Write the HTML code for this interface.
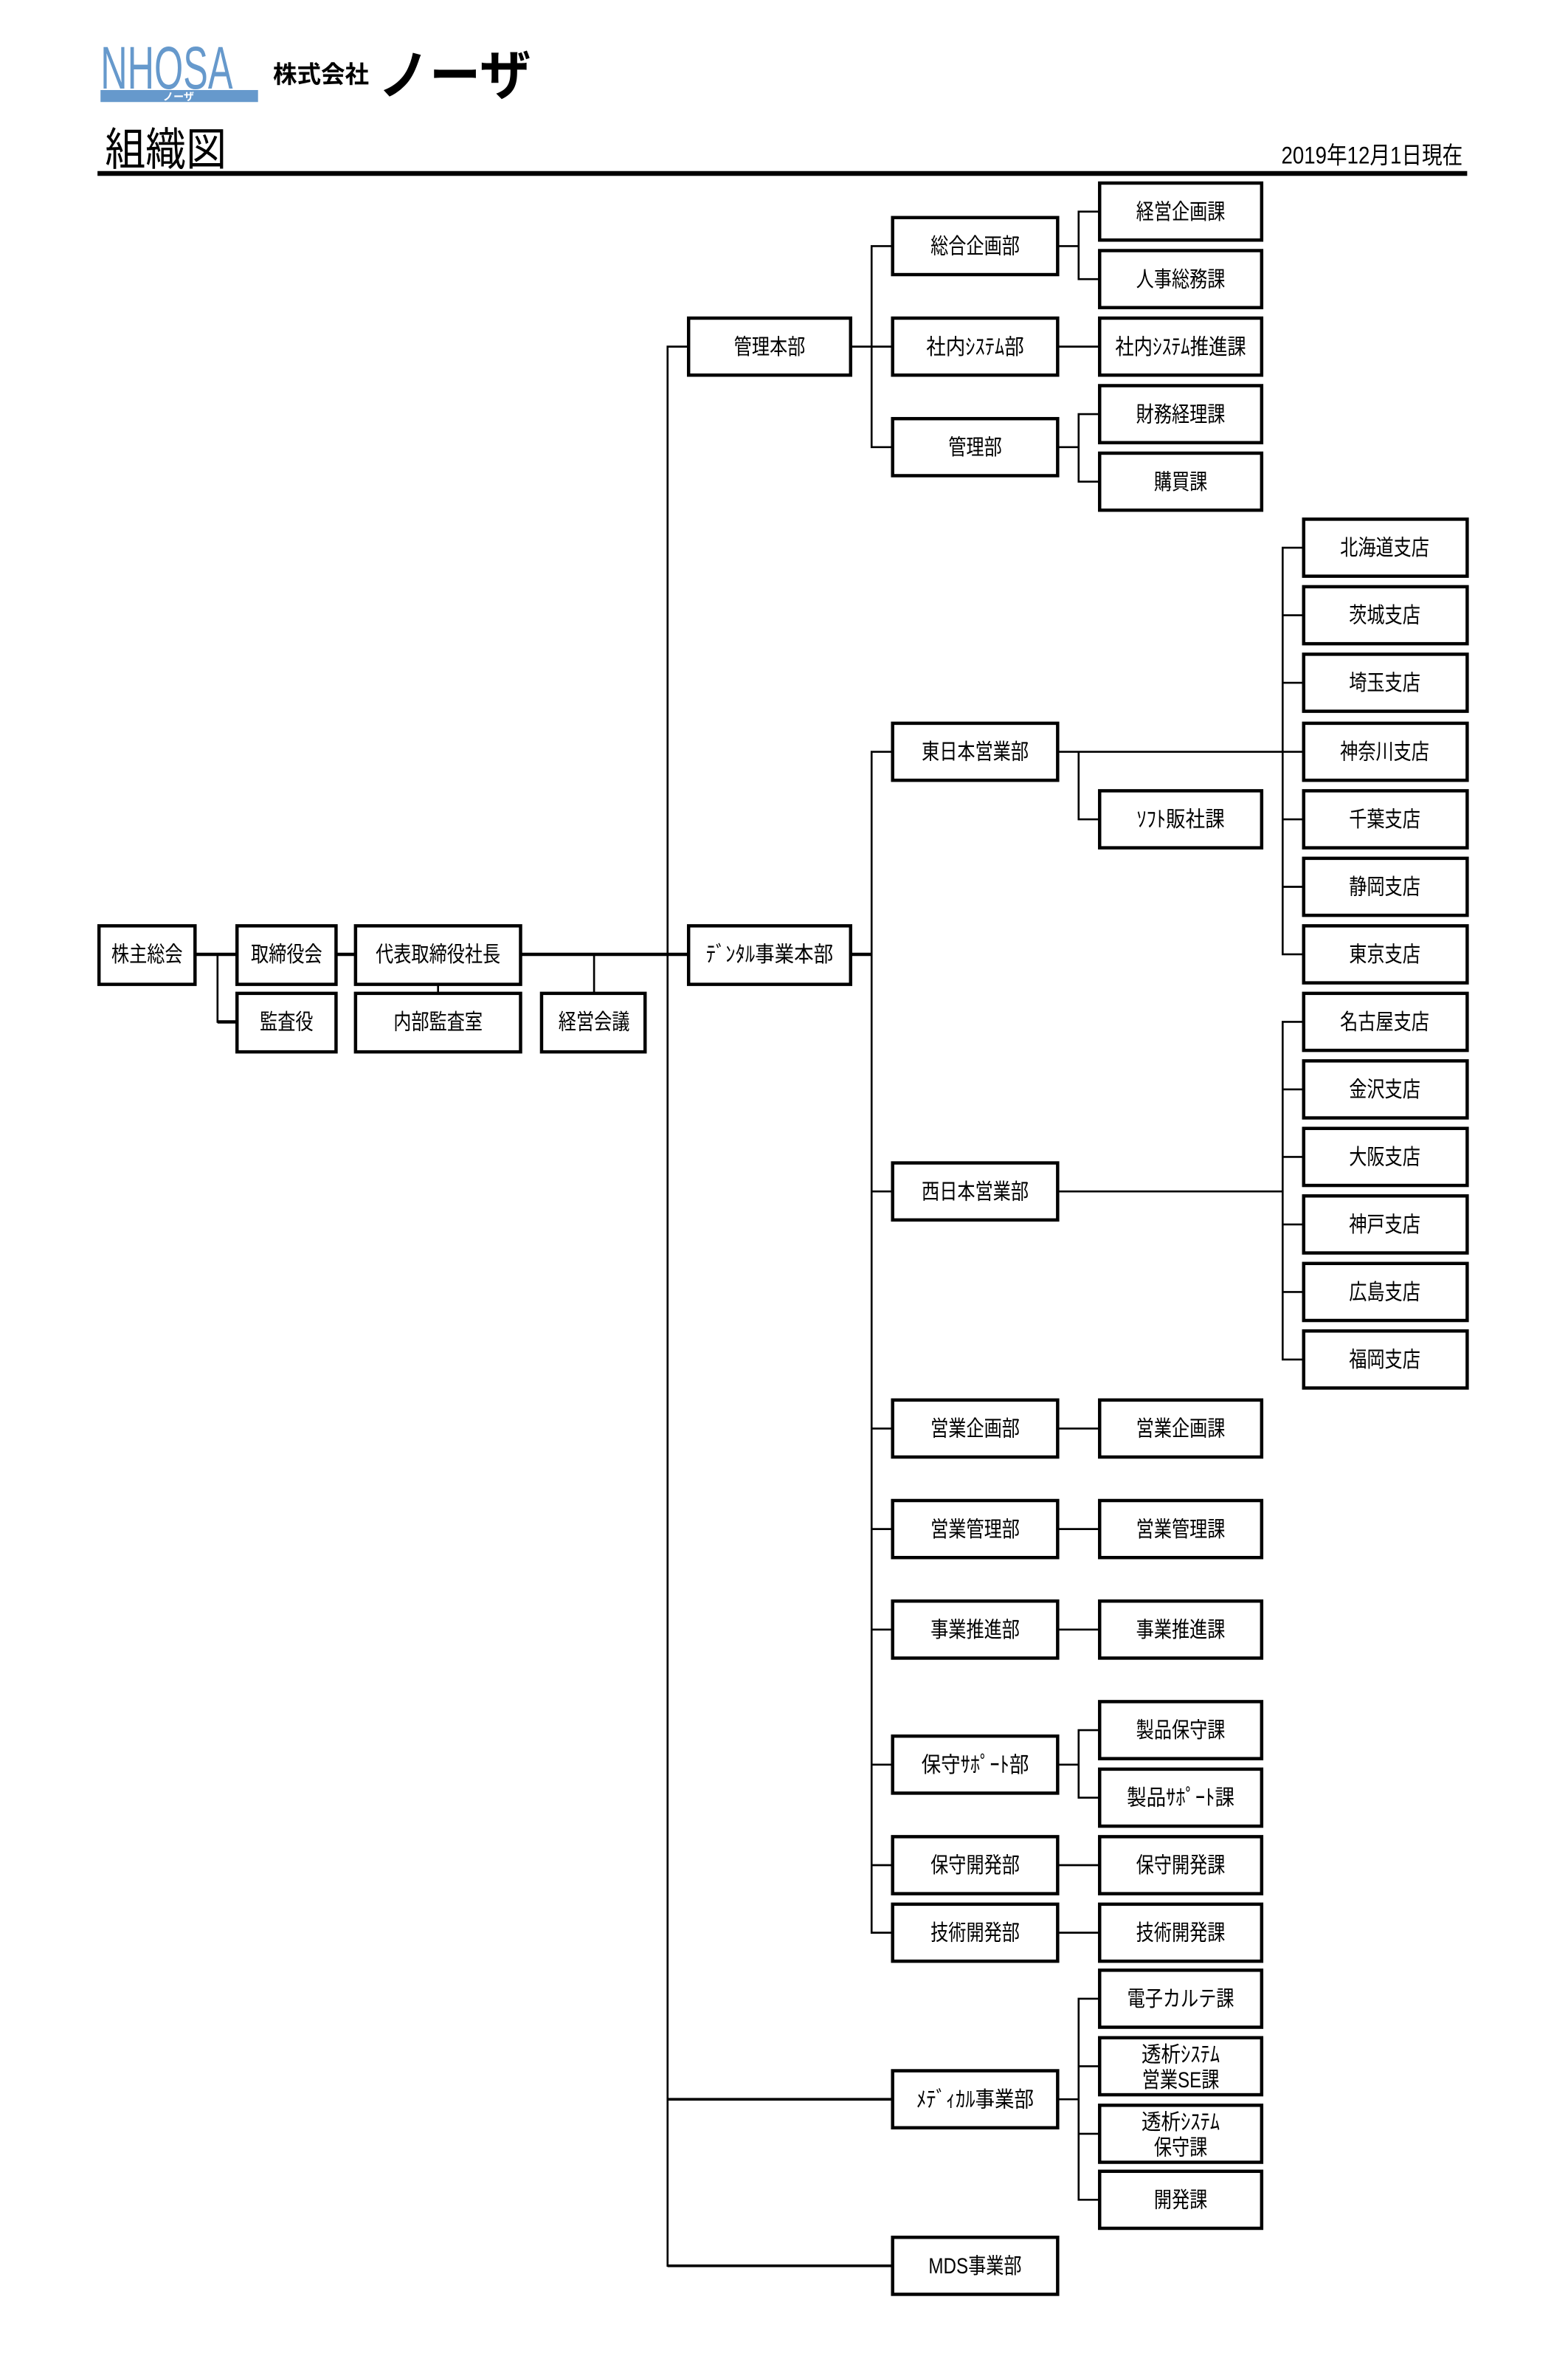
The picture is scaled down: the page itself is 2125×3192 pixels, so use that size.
<!DOCTYPE html>
<html><head><meta charset="utf-8">
<style>
html,body{margin:0;padding:0;background:#fff;}
svg{display:block;}
text{font-family:"Liberation Sans","Noto Sans CJK JP",sans-serif;fill:#000;}
</style></head><body>
<svg width="2125" height="3192" viewBox="0 0 1045.2 1570.1" preserveAspectRatio="none" xmlns="http://www.w3.org/2000/svg">
<!-- logo -->
<text font-size="40" style="fill:#6699cc" transform="translate(67 59) scale(0.62 1)">NHOSA</text>
<rect x="67" y="60" width="105" height="8" fill="#6699cc"/>
<text x="119" y="67" font-size="7" text-anchor="middle" style="fill:#fff" font-weight="bold">ノーザ</text>
<text x="182" y="55" font-size="16" font-weight="bold">株式会社</text>
<text font-size="36" font-weight="bold" transform="translate(252 63) scale(0.95 1)">ノーザ</text>
<!-- title -->
<text transform="translate(70 110) scale(0.9 1)" font-size="30">組織図</text>
<text transform="translate(975 109) scale(0.85 1)" font-size="16" text-anchor="end">2019年12月1日現在</text>
<rect x="65" y="114" width="913" height="3.2" fill="#000"/>

<g fill="none" stroke="#000" stroke-width="1.3">
<line x1="130" y1="636" x2="459" y2="636" stroke-width="2.2"/>
<polyline points="145,636 145,681 158,681"/>
<line x1="145" y1="681" x2="158" y2="681" stroke-width="2.2"/>
<line x1="292" y1="656" x2="292" y2="662"/>
<line x1="396" y1="636" x2="396" y2="662"/>
<polyline points="459,231 445,231 445,1510 595,1510"/>
<line x1="445" y1="1399" x2="595" y2="1399" stroke-width="1.8"/>
<line x1="445" y1="1510" x2="595" y2="1510" stroke-width="1.8"/>
<line x1="567" y1="231" x2="595" y2="231"/>
<polyline points="595,164 581,164 581,298 595,298"/>
<line x1="705" y1="164" x2="719" y2="164"/>
<polyline points="733,141 719,141 719,186 733,186"/>
<line x1="705" y1="231" x2="733" y2="231"/>
<line x1="705" y1="298" x2="719" y2="298"/>
<polyline points="733,276 719,276 719,321 733,321"/>
<line x1="567" y1="636" x2="581" y2="636" stroke-width="2.2"/>
<polyline points="595,501 581,501 581,1288 595,1288"/>
<line x1="581" y1="794" x2="595" y2="794"/>
<line x1="581" y1="952" x2="595" y2="952"/>
<line x1="581" y1="1019" x2="595" y2="1019"/>
<line x1="581" y1="1086" x2="595" y2="1086"/>
<line x1="581" y1="1176" x2="595" y2="1176"/>
<line x1="581" y1="1243" x2="595" y2="1243"/>
<line x1="705" y1="501" x2="869" y2="501"/>
<polyline points="719,501 719,546 733,546"/>
<polyline points="869,365 855,365 855,636 869,636"/>
<line x1="855" y1="410" x2="869" y2="410"/>
<line x1="855" y1="455" x2="869" y2="455"/>
<line x1="855" y1="546" x2="869" y2="546"/>
<line x1="855" y1="591" x2="869" y2="591"/>
<line x1="705" y1="794" x2="855" y2="794"/>
<polyline points="869,681 855,681 855,906 869,906"/>
<line x1="855" y1="726" x2="869" y2="726"/>
<line x1="855" y1="771" x2="869" y2="771"/>
<line x1="855" y1="816" x2="869" y2="816"/>
<line x1="855" y1="861" x2="869" y2="861"/>
<line x1="705" y1="952" x2="733" y2="952"/>
<line x1="705" y1="1019" x2="733" y2="1019"/>
<line x1="705" y1="1086" x2="733" y2="1086"/>
<line x1="705" y1="1176" x2="719" y2="1176"/>
<polyline points="733,1153 719,1153 719,1198 733,1198"/>
<line x1="705" y1="1243" x2="733" y2="1243"/>
<line x1="705" y1="1288" x2="733" y2="1288"/>
<line x1="705" y1="1399" x2="719" y2="1399"/>
<polyline points="733,1332 719,1332 719,1466 733,1466"/>
<line x1="719" y1="1377" x2="733" y2="1377"/>
<line x1="719" y1="1422" x2="733" y2="1422"/>
</g>

<g fill="#fff" stroke="#000" stroke-width="2.2">
<rect x="66" y="617" width="64" height="39"/>
<rect x="158" y="617" width="66" height="39"/>
<rect x="158" y="662" width="66" height="39"/>
<rect x="237" y="617" width="110" height="39"/>
<rect x="237" y="662" width="110" height="39"/>
<rect x="361" y="662" width="69" height="39"/>
<rect x="459" y="212" width="108" height="38"/>
<rect x="459" y="617" width="108" height="39"/>
<rect x="595" y="145" width="110" height="38"/>
<rect x="595" y="212" width="110" height="38"/>
<rect x="595" y="279" width="110" height="38"/>
<rect x="595" y="482" width="110" height="38"/>
<rect x="595" y="775" width="110" height="38"/>
<rect x="595" y="933" width="110" height="38"/>
<rect x="595" y="1000" width="110" height="38"/>
<rect x="595" y="1067" width="110" height="38"/>
<rect x="595" y="1157" width="110" height="38"/>
<rect x="595" y="1224" width="110" height="38"/>
<rect x="595" y="1269" width="110" height="38"/>
<rect x="595" y="1380" width="110" height="38"/>
<rect x="595" y="1491" width="110" height="38"/>
<rect x="733" y="122" width="108" height="38"/>
<rect x="733" y="167" width="108" height="38"/>
<rect x="733" y="212" width="108" height="38"/>
<rect x="733" y="257" width="108" height="38"/>
<rect x="733" y="302" width="108" height="38"/>
<rect x="733" y="527" width="108" height="38"/>
<rect x="733" y="933" width="108" height="38"/>
<rect x="733" y="1000" width="108" height="38"/>
<rect x="733" y="1067" width="108" height="38"/>
<rect x="733" y="1134" width="108" height="38"/>
<rect x="733" y="1179" width="108" height="38"/>
<rect x="733" y="1224" width="108" height="38"/>
<rect x="733" y="1269" width="108" height="38"/>
<rect x="733" y="1313" width="108" height="38"/>
<rect x="733" y="1358" width="108" height="38"/>
<rect x="733" y="1403" width="108" height="38"/>
<rect x="733" y="1447" width="108" height="38"/>
<rect x="869" y="346" width="109" height="38"/>
<rect x="869" y="391" width="109" height="38"/>
<rect x="869" y="436" width="109" height="38"/>
<rect x="869" y="482" width="109" height="38"/>
<rect x="869" y="527" width="109" height="38"/>
<rect x="869" y="572" width="109" height="38"/>
<rect x="869" y="617" width="109" height="38"/>
<rect x="869" y="662" width="109" height="38"/>
<rect x="869" y="707" width="109" height="38"/>
<rect x="869" y="752" width="109" height="38"/>
<rect x="869" y="797" width="109" height="38"/>
<rect x="869" y="842" width="109" height="38"/>
<rect x="869" y="887" width="109" height="38"/>
</g>

<g font-size="14.5" text-anchor="middle">
<text transform="translate(98 641) scale(0.82 1)">株主総会</text>
<text transform="translate(191 641) scale(0.82 1)">取締役会</text>
<text transform="translate(191 686) scale(0.82 1)">監査役</text>
<text transform="translate(292 641) scale(0.82 1)">代表取締役社長</text>
<text transform="translate(292 686) scale(0.82 1)">内部監査室</text>
<text transform="translate(396 686) scale(0.82 1)">経営会議</text>
<text transform="translate(513 236) scale(0.82 1)">管理本部</text>
<text transform="translate(513 641) scale(0.9 1)">ﾃﾞﾝﾀﾙ事業本部</text>

<text transform="translate(650 169) scale(0.82 1)">総合企画部</text>
<text transform="translate(650 236) scale(0.9 1)">社内ｼｽﾃﾑ部</text>
<text transform="translate(650 303) scale(0.82 1)">管理部</text>
<text transform="translate(650 506) scale(0.82 1)">東日本営業部</text>
<text transform="translate(650 799) scale(0.82 1)">西日本営業部</text>
<text transform="translate(650 957) scale(0.82 1)">営業企画部</text>
<text transform="translate(650 1024) scale(0.82 1)">営業管理部</text>
<text transform="translate(650 1091) scale(0.82 1)">事業推進部</text>
<text transform="translate(650 1181) scale(0.9 1)">保守ｻﾎﾟｰﾄ部</text>
<text transform="translate(650 1248) scale(0.82 1)">保守開発部</text>
<text transform="translate(650 1293) scale(0.82 1)">技術開発部</text>
<text transform="translate(650 1404) scale(0.9 1)">ﾒﾃﾞｨｶﾙ事業部</text>
<text transform="translate(650 1515) scale(0.82 1)">MDS事業部</text>

<text transform="translate(787 146) scale(0.82 1)">経営企画課</text>
<text transform="translate(787 191) scale(0.82 1)">人事総務課</text>
<text transform="translate(787 236) scale(0.86 1)">社内ｼｽﾃﾑ推進課</text>
<text transform="translate(787 281) scale(0.82 1)">財務経理課</text>
<text transform="translate(787 326) scale(0.82 1)">購買課</text>
<text transform="translate(787 551) scale(0.9 1)">ｿﾌﾄ販社課</text>
<text transform="translate(787 957) scale(0.82 1)">営業企画課</text>
<text transform="translate(787 1024) scale(0.82 1)">営業管理課</text>
<text transform="translate(787 1091) scale(0.82 1)">事業推進課</text>
<text transform="translate(787 1158) scale(0.82 1)">製品保守課</text>
<text transform="translate(787 1203) scale(0.9 1)">製品ｻﾎﾟｰﾄ課</text>
<text transform="translate(787 1248) scale(0.82 1)">保守開発課</text>
<text transform="translate(787 1293) scale(0.82 1)">技術開発課</text>
<text transform="translate(787 1337) scale(0.82 1)">電子カルテ課</text>
<text transform="translate(787 1374) scale(0.9 1)">透析ｼｽﾃﾑ</text>
<text transform="translate(787 1391) scale(0.82 1)">営業SE課</text>
<text transform="translate(787 1419) scale(0.9 1)">透析ｼｽﾃﾑ</text>
<text transform="translate(787 1436) scale(0.82 1)">保守課</text>
<text transform="translate(787 1471) scale(0.82 1)">開発課</text>

<text transform="translate(923 370) scale(0.82 1)">北海道支店</text>
<text transform="translate(923 415) scale(0.82 1)">茨城支店</text>
<text transform="translate(923 460) scale(0.82 1)">埼玉支店</text>
<text transform="translate(923 506) scale(0.82 1)">神奈川支店</text>
<text transform="translate(923 551) scale(0.82 1)">千葉支店</text>
<text transform="translate(923 596) scale(0.82 1)">静岡支店</text>
<text transform="translate(923 641) scale(0.82 1)">東京支店</text>
<text transform="translate(923 686) scale(0.82 1)">名古屋支店</text>
<text transform="translate(923 731) scale(0.82 1)">金沢支店</text>
<text transform="translate(923 776) scale(0.82 1)">大阪支店</text>
<text transform="translate(923 821) scale(0.82 1)">神戸支店</text>
<text transform="translate(923 866) scale(0.82 1)">広島支店</text>
<text transform="translate(923 911) scale(0.82 1)">福岡支店</text>
</g>
</svg>
</body></html>
